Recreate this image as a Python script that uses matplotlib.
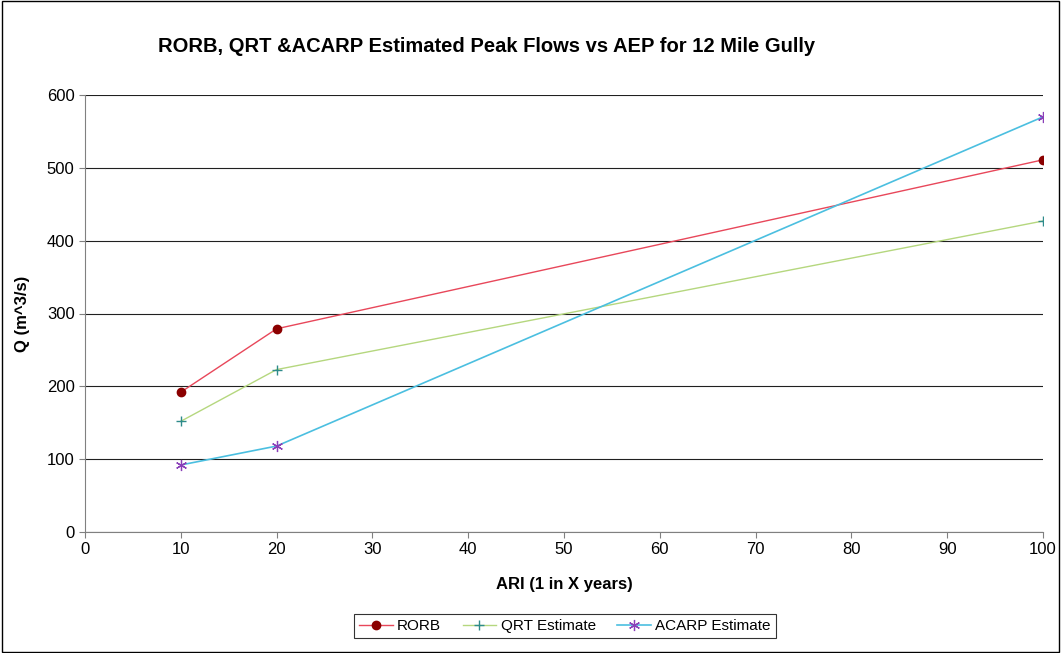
import numpy as np
import matplotlib.pyplot as plt
from matplotlib.patches import Rectangle

plt.rcParams['font.family'] = ['Liberation Sans', 'DejaVu Sans']

ari = [10, 20, 100]
rorb = [192, 279, 511]
qrt = [152, 223, 427]
acarp = [92, 118, 570]

fig = plt.figure(figsize=(10.61, 6.53), dpi=100)
fig.patches.append(Rectangle((0.002, 0.002), 0.996, 0.996, transform=fig.transFigure,
                             fill=False, edgecolor="black", linewidth=1))
ax = fig.add_axes([85 / 1061, 1 - 532 / 653, (1043 - 85) / 1061, (532 - 95) / 653])

ax.plot(ari, rorb, color="#e8475a", lw=1, marker="o", ms=6,
        mfc="#8b0000", mec="#8b0000", label="RORB")
ax.plot(ari, qrt, color="#b5d77e", lw=1, marker="+", ms=7,
        mfc="#2e8b8b", mec="#2e8b8b", label="QRT Estimate")
ax.plot(ari, acarp, color="#4bbfe0", lw=1.2, marker=(6, 2, 0), ms=8,
        mfc="#8a3fb8", mec="#8a3fb8", mew=0.9, label="ACARP Estimate")

ax.set_xlim(0, 100)
ax.set_ylim(0, 600)
ax.set_xticks(np.arange(0, 101, 10))
ax.set_yticks(np.arange(0, 601, 100))
ax.yaxis.grid(True, color="#202020", lw=0.8)
ax.set_axisbelow(True)
for s in ["top", "right"]:
    ax.spines[s].set_visible(False)
ax.spines["left"].set_color("#808080")
ax.spines["bottom"].set_color("#808080")
ax.tick_params(labelsize=12, color="#808080", length=4)

ax.set_xlabel("ARI (1 in X years)", fontsize=12, fontweight="bold", labelpad=14)
ax.set_ylabel("Q (m^3/s)", fontsize=12, fontweight="bold", labelpad=12)
fig.text(487 / 1061, 1 - 47 / 653, "RORB, QRT &ACARP Estimated Peak Flows vs AEP for 12 Mile Gully",
         ha="center", va="center", fontsize=14.5, fontweight="bold")

leg = fig.legend(loc="center", bbox_to_anchor=(565 / 1061, 1 - 626 / 653), ncol=3,
                 fontsize=11, frameon=True, fancybox=False, edgecolor="black",
                 handlelength=2.2, columnspacing=1.4, handletextpad=0.3,
                 borderpad=0.35)
leg.get_frame().set_linewidth(0.8)

fig.savefig("out.png", dpi=100)
